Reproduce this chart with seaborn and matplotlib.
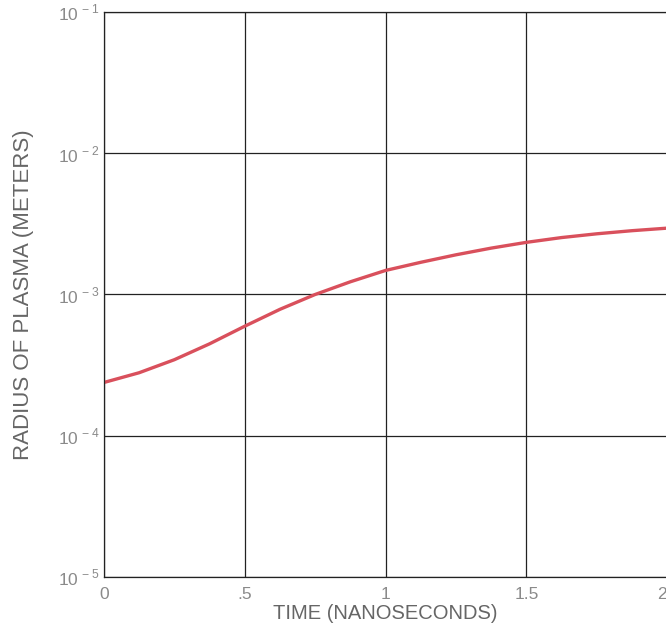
import numpy as np
import pandas as pd
import seaborn as sns
import matplotlib.pyplot as plt
from matplotlib.transforms import ScaledTranslation

time_ns = [0, 0.125, 0.25, 0.375, 0.5, 0.625, 0.75, 0.875, 1.0,
           1.125, 1.25, 1.375, 1.5, 1.625, 1.75, 1.875, 2.0]
radius_m = [2.38e-4, 2.79e-4, 3.45e-4, 4.47e-4, 5.96e-4, 7.85e-4, 1.0e-3, 1.23e-3, 1.48e-3,
            1.69e-3, 1.91e-3, 2.13e-3, 2.34e-3, 2.53e-3, 2.69e-3, 2.83e-3, 2.95e-3]

x_ticks = [0, 0.5, 1, 1.5, 2]
x_labels = ['0', '.5', '1', '1.5', '2']
y_ticks = [1e-5, 1e-4, 1e-3, 1e-2, 1e-1]
y_labels = ['10$^{\\,-5}$', '10$^{\\,-4}$', '10$^{\\,-3}$', '10$^{\\,-2}$', '10$^{\\,-1}$']

df = pd.DataFrame({'time': time_ns, 'radius': radius_m})

sns.set_style('white')
plt.rcParams['font.family'] = ['Liberation Sans', 'DejaVu Sans']
plt.rcParams['mathtext.fontset'] = 'custom'
plt.rcParams['mathtext.rm'] = 'Liberation Sans'

fig = plt.figure(figsize=(6.66, 6.36), dpi=100)
ax = fig.add_axes([0.156, 0.093, 0.846, 0.888])

sns.lineplot(data=df, x='time', y='radius', ax=ax, color='#d9505c', linewidth=2.4)

ax.set_yscale('log')
ax.set_xlim(0, 2)
ax.set_ylim(1e-5, 1e-1)
ax.set_xticks(x_ticks)
ax.set_xticklabels(x_labels)
ax.set_yticks(y_ticks)
ax.set_yticklabels(y_labels)
ax.minorticks_off()
ax.tick_params(axis='both', length=0, labelsize=12.5, colors='#8a8a8a')
ax.tick_params(axis='y', pad=3)
ax.tick_params(axis='x', pad=7)
ax.grid(True, color='#222222', linewidth=0.9)
for side in ['left', 'bottom', 'top']:
    ax.spines[side].set_color('#222222')
    ax.spines[side].set_linewidth(0.9)
ax.spines['right'].set_visible(False)

# keep the last x label inside the figure
last = ax.get_xticklabels()[-1]
last.set_transform(last.get_transform() + ScaledTranslation(-5 / 100, 0, fig.dpi_scale_trans))

ax.set_xlabel('TIME (NANOSECONDS)', fontsize=14.5, color='#666666', labelpad=2)
ax.set_ylabel('RADIUS OF PLASMA (METERS)', fontsize=16, color='#666666', labelpad=17)

plt.savefig('out.png', dpi=100)
plt.close()
